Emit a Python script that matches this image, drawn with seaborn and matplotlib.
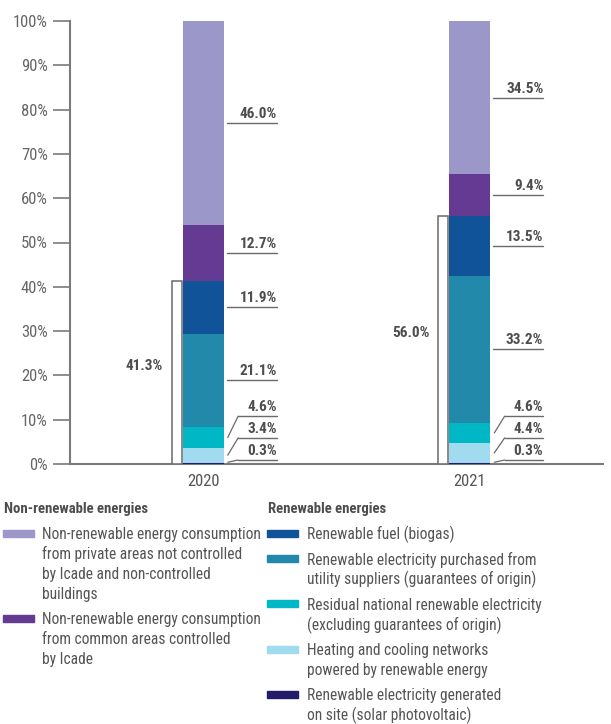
import numpy as np
import pandas as pd
import matplotlib
matplotlib.use('Agg')
import matplotlib.pyplot as plt
import seaborn as sns
from matplotlib import font_manager
from matplotlib.patches import Rectangle

# data (percent of total energy consumption)
years = ['2020', '2021']
solar = [0.3, 0.3]
heating = [3.4, 4.4]
residual = [4.6, 4.6]
purchased = [21.1, 33.2]
biogas = [11.9, 13.5]
common = [12.7, 9.4]
private = [46.0, 34.5]
renewable_total = [41.3, 56.0]

# stack order: bottom -> top
layers = [solar, heating, residual, purchased, biogas, common, private]
colors = ['#211d6b', '#a1dbef', '#00b8c5', '#2389aa', '#105398', '#653a92', '#9b97c8']

nonrenew_labels = ['Non-renewable energy consumption\nfrom private areas not controlled\nby Icade and non-controlled\nbuildings',
                   'Non-renewable energy consumption\nfrom common areas controlled\nby Icade']
renew_labels = ['Renewable fuel (biogas)',
                'Renewable electricity purchased from\nutility suppliers (guarantees of origin)',
                'Residual national renewable electricity\n(excluding guarantees of origin)',
                'Heating and cooling networks\npowered by renewable energy',
                'Renewable electricity generated\non site (solar photovoltaic)']

sns.set_style('white')
names = {f.name for f in font_manager.fontManager.ttflist}
font = 'DejaVu Sans'
for cand in ['Liberation Sans Narrow', 'Roboto Condensed', 'Open Sans Condensed', 'Liberation Sans']:
    if cand in names:
        font = cand
        break
plt.rcParams['font.family'] = [font, 'DejaVu Sans']

W, H = 611, 724
fig = plt.figure(figsize=(W / 100, H / 100), dpi=100)
ax = fig.add_axes([70 / W, 1 - 464 / H, (603 - 70) / W, (464 - 21) / H])

bar_w = 0.154
df = pd.DataFrame(np.array(layers).T, index=years)
cum = df.cumsum(axis=1)
# overlapping cumulative bars, drawn from top layer down
for i in range(len(layers) - 1, -1, -1):
    sns.barplot(x=years, y=cum[i].values, color=colors[i], width=bar_w,
                saturation=1, errorbar=None, linewidth=0, ax=ax,
                zorder=3 if i == 0 else 1)

# renewable total (white outlined bar)
xpos = np.arange(len(years))
ax.bar(xpos - 0.0996, renewable_total, width=0.038, color='white',
       edgecolor='#6a6a6a', linewidth=1.1, zorder=3)

txt_c = '#4d4d4d'
line_c = '#6a6a6a'
x_end = 0.276
small_y = [10.8, 5.9, 0.9]   # label rows for the three thin segments
for j in range(len(years)):
    c = xpos[j]
    bottoms = cum.iloc[j].values - df.iloc[j].values
    for i in range(len(layers)):
        v = df.iloc[j, i]
        mid = bottoms[i] + v / 2
        if i < 3:
            uy = small_y[2 - i]
            ax.plot([c + 0.131, c + x_end], [uy, uy], color=line_c, lw=1, clip_on=False)
            ax.plot([c + 0.131, c + 0.092], [uy, max(mid, 0.4)], color=line_c, lw=0.9, clip_on=False)
        else:
            uy = mid
            ax.plot([c + 0.088, c + x_end], [uy, uy], color=line_c, lw=1, clip_on=False)
        ax.text(c + x_end, uy + 0.5, f'{v:.1f}%', ha='right', va='bottom',
                fontsize=11, fontweight='bold', color=txt_c)
    ax.text(c - 0.152, renewable_total[j] / 2 + 1.5, f'{renewable_total[j]:.1f}%',
            ha='right', va='center', fontsize=11, fontweight='bold', color=txt_c)

ax.set_xlim(-0.5, 1.5)
ax.set_ylim(0, 100)
ax.set_yticks(range(0, 101, 10))
ax.set_yticklabels([f'{v}%' for v in range(0, 101, 10)])
ax.tick_params(axis='y', length=12, width=1.2, color='#7a7a7a', pad=4,
               labelsize=12, labelcolor='#666666', left=True)
ax.tick_params(axis='x', length=0, pad=7, labelsize=12, labelcolor='#555555')
ax.set_xlabel('')
ax.set_ylabel('')
sns.despine(ax=ax)
for s in ['left', 'bottom']:
    ax.spines[s].set_color('#7a7a7a')
    ax.spines[s].set_linewidth(1.5)

# legend, drawn by hand to keep swatches on the first line of each label
def fx(px):
    return px / W

def fy(py):
    return 1 - py / H

def legend_col(x_patch, x_text, heading, labels, cols):
    fig.text(fx(x_patch + 1), fy(513), heading, fontsize=10.6, fontweight='bold',
             color=txt_c, va='baseline', ha='left')
    y = 533.5
    for lab, col in zip(labels, cols):
        fig.patches.append(Rectangle((fx(x_patch), fy(y + 3.5)), fx(31), 7 / H,
                                     transform=fig.transFigure, color=col))
        for k, line in enumerate(lab.split('\n')):
            fig.text(fx(x_text), fy(y + 6 + k * 19.8), line, fontsize=11.2,
                     color='#555555', va='baseline', ha='left')
        y += lab.count('\n') * 19.8 + 19.8 + 5.5

legend_col(3, 42, 'Non-renewable energies', nonrenew_labels, colors[6:4:-1])
legend_col(267, 307, 'Renewable energies', renew_labels, colors[4::-1])

fig.savefig('out.png', dpi=100)
